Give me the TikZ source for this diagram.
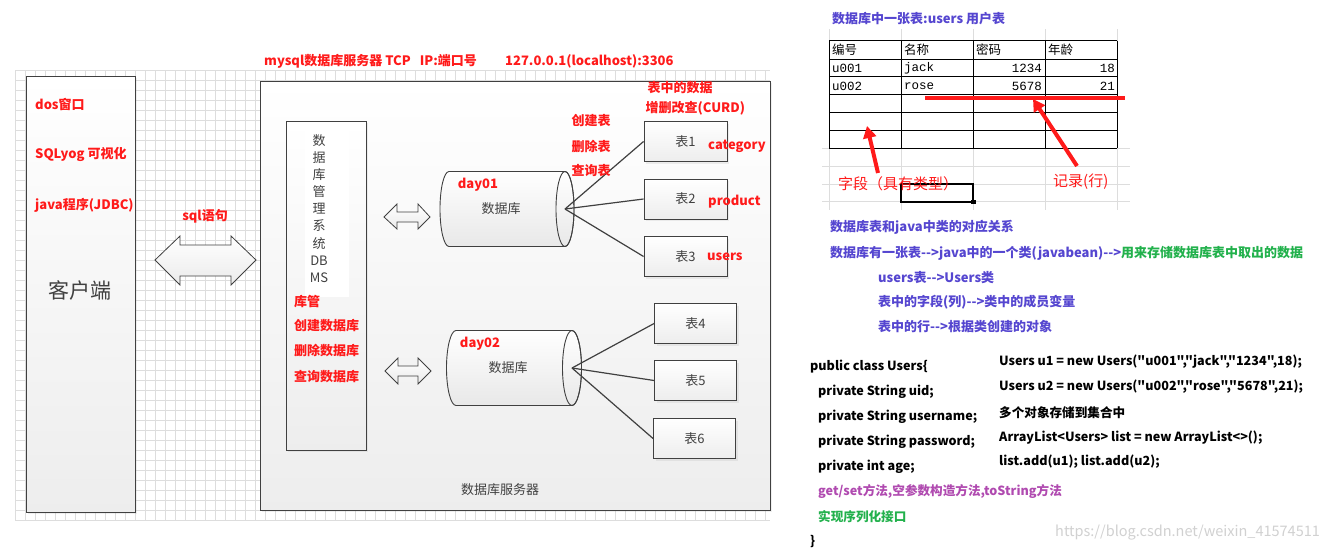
\documentclass[tikz,border=0pt]{standalone}
\usepackage{fontspec}
\setmainfont{Noto Sans CJK SC}
\newfontfamily\codefont{Noto Sans CJK SC}
\newfontfamily\tabmono{Liberation Mono}
\usetikzlibrary{arrows.meta,shadows}
\definecolor{hired}{HTML}{FF1A1A}
\definecolor{noteblue}{HTML}{5546D0}
\definecolor{notegreen}{HTML}{22B14C}
\definecolor{notepurple}{HTML}{B04AB0}
\definecolor{gridgray}{HTML}{DDDDDD}
\definecolor{edgegray}{HTML}{404040}
\tikzset{
  box/.style={draw=edgegray, line width=0.9pt, top color=white, bottom color=black!7,
    drop shadow={opacity=0.12, shadow xshift=2pt, shadow yshift=-2pt}},
  link/.style={edgegray, line width=1.2pt},
}
\begin{document}
\begin{tikzpicture}[x=1pt,y=-1pt,
    redlbl/.style={text=hired, font=\bfseries\fontsize{13}{15}\selectfont, anchor=west, inner sep=0pt},
    graylbl/.style={text=black!75, font=\fontsize{13}{15}\selectfont, inner sep=0pt},
    tabbox/.style={box, minimum width=82pt, minimum height=40pt, graylbl},
    note/.style={text=noteblue, font=\codefont\bfseries\fontsize{13}{15}\selectfont, anchor=west, inner sep=0pt},
    code/.style={text=black, font=\codefont\bfseries\fontsize{12.6}{14}\selectfont, anchor=west, inner sep=0pt},
    cell/.style={font=\fontsize{12.5}{14}\selectfont, anchor=west, inner sep=0pt}]
    \useasboundingbox[fill=white] (0,0) rectangle (1342,552);
    % Grille
    \foreach \gx in {15,25,...,765}{
        \draw[gridgray, line width=0.5pt] (\gx,70) -- (\gx,520);
    }
    \foreach \gy in {70,80,...,520}{
        \draw[gridgray, line width=0.5pt] (15,\gy) -- (770,\gy);
    }
    % Client
    \node[box, minimum width=109pt, minimum height=436pt] (client) at (80.5,294) {};
    \node[redlbl] (dos) at (35,104) {dos窗口};
    \node[redlbl] (sqlyog) at (35,154) {SQLyog 可视化};
    \node[redlbl] (jdbc) at (35,205) {java程序(JDBC)};
    \node[graylbl, font=\fontsize{21}{24}\selectfont] (clientlbl) at (80,290) {客户端};
    % Serveur
    \node[redlbl] (srvtitle) at (264,61.5) {mysql数据库服务器 TCP\hspace{9pt}IP:端口号};
    \node[redlbl] (srvport) at (505,61.5) {127.0.0.1(localhost):3306};
    \node[box, minimum width=510pt, minimum height=429pt] (server) at (515,295.5) {};
    \node[graylbl] (serverlbl) at (500,490) {数据库服务器};
    % Fleche client <-> serveur
    \shadedraw[edgegray, line width=0.8pt, top color=white, bottom color=black!8]
        (155,260) -- (180,236) -- (180,245) -- (231,245) -- (231,236) -- (256,260)
        -- (231,285) -- (231,276) -- (180,276) -- (180,285) -- cycle;
    \node[redlbl, anchor=center] (sql) at (205,216) {sql语句};
    % SGBD
    \node[box, minimum width=80pt, minimum height=329pt] (dbms) at (326,285.5) {};
    \fill[white] (305,124) rectangle (349,297);
    \node[graylbl, align=center, font=\fontsize{13}{17.1}\selectfont] (dbmslbl) at (319,208.5)
        {数\\据\\库\\管\\理\\系\\统\\DB\\MS};
    \node[redlbl] (kuguan) at (294,301.5) {库管};
    \node[redlbl] (mkdb) at (294,326) {创建数据库};
    \node[redlbl] (rmdb) at (294,351) {删除数据库};
    \node[redlbl] (lsdb) at (294,376.5) {查询数据库};
    % Petites fleches
    \shadedraw[edgegray, line width=0.8pt, top color=white, bottom color=black!8]
        (384,217) -- (397,204) -- (397,212) -- (418,212) -- (418,204) -- (430,217)
        -- (418,229) -- (418,222) -- (397,222) -- (397,229) -- cycle;
    \shadedraw[edgegray, line width=0.8pt, top color=white, bottom color=black!8]
        (385,371) -- (398,358) -- (398,366) -- (418,366) -- (418,358) -- (431,371)
        -- (418,384) -- (418,376) -- (398,376) -- (398,384) -- cycle;
    % Base day01
    \shadedraw[edgegray, line width=0.9pt, top color=white, bottom color=black!9]
        (449,171.5) -- (565,171.5) arc[start angle=-90, end angle=90, x radius=9, y radius=37.5]
        -- (449,246.5) arc[start angle=90, end angle=270, x radius=9, y radius=37.5] -- cycle;
    \draw[edgegray, line width=0.9pt] (565,209) ellipse[x radius=9, y radius=37.5];
    \coordinate (db1) at (565,209);
    \node[redlbl, anchor=center] (day01) at (478,185) {day01};
    \node[graylbl] (db1lbl) at (501,209) {数据库};
    % Base day02
    \shadedraw[edgegray, line width=0.9pt, top color=white, bottom color=black!9]
        (456,330.5) -- (572,330.5) arc[start angle=-90, end angle=90, x radius=9.5, y radius=37.5]
        -- (456,405.5) arc[start angle=90, end angle=270, x radius=9.5, y radius=37.5] -- cycle;
    \draw[edgegray, line width=0.9pt] (572,368) ellipse[x radius=9.5, y radius=37.5];
    \coordinate (db2) at (572,368);
    \node[redlbl, anchor=center] (day02) at (480,344) {day02};
    \node[graylbl] (db2lbl) at (508,368) {数据库};
    % Tables
    \node[tabbox, minimum width=83pt] (t1) at (685.5,141.5) {表1};
    \node[tabbox, minimum width=83pt] (t2) at (685.5,199) {表2};
    \node[tabbox, minimum width=83pt] (t3) at (685.5,256.5) {表3};
    \node[tabbox] (t4) at (695.5,323.5) {表4};
    \node[tabbox] (t5) at (695.5,380.5) {表5};
    \node[tabbox] (t6) at (694.5,438.5) {表6};
    \foreach \t in {t1,t2,t3}{
        \draw[link] (db1) -- (\t.west);
    }
    \foreach \t in {t4,t5,t6}{
        \draw[link] (db2) -- (\t.west);
    }
    \node[redlbl] (crud1) at (647.5,88) {表中的数据};
    \node[redlbl] (crud2) at (645.5,108) {增删改查(CURD)};
    \node[redlbl] (mktb) at (571.5,121) {创建表};
    \node[redlbl] (rmtb) at (571.5,146.5) {删除表};
    \node[redlbl] (lstb) at (571.5,171) {查询表};
    \node[redlbl] (category) at (708,146) {category};
    \node[redlbl] (product) at (708,202) {product};
    \node[redlbl] (users) at (707,257) {users};
    % Tableau users
    \node[note] (tbltitle) at (832,19) {数据库中一张表:users 用户表};
    \foreach \cx in {829.3,901,973.3,1045.3,1117.3}{
        \draw[gridgray, line width=0.6pt] (\cx,29) -- (\cx,210);
    }
    \foreach \cy in {148.3,166.7,184.3,201.7}{
        \draw[gridgray, line width=0.6pt] (822,\cy) -- (1130,\cy);
    }
    \foreach \cy in {40.7,59,76.7,94.3,112.3,130.7,148.3}{
        \draw[black, line width=0.9pt] (829.3,\cy) -- (1117.3,\cy);
    }
    \foreach \cx in {829.3,901,973.3,1045.3,1117.3}{
        \draw[black, line width=0.9pt] (\cx,40.7) -- (\cx,148.3);
    }
    \node[cell] (h1) at (832,50) {编号};
    \node[cell] (h2) at (904,50) {名称};
    \node[cell] (h3) at (976,50) {密码};
    \node[cell] (h4) at (1048,50) {年龄};
    \node[cell, font=\tabmono\fontsize{12.5}{14}\selectfont] (u1) at (832,68) {u001};
    \node[cell, font=\tabmono\fontsize{12.5}{14}\selectfont] (n1) at (904,68) {jack};
    \node[cell, font=\tabmono\fontsize{12.5}{14}\selectfont, anchor=east] (p1) at (1042,68) {1234};
    \node[cell, font=\tabmono\fontsize{12.5}{14}\selectfont, anchor=east] (a1) at (1115,68) {18};
    \node[cell, font=\tabmono\fontsize{12.5}{14}\selectfont] (u2) at (832,86) {u002};
    \node[cell, font=\tabmono\fontsize{12.5}{14}\selectfont] (n2) at (904,86) {rose};
    \node[cell, font=\tabmono\fontsize{12.5}{14}\selectfont, anchor=east] (p2) at (1042,86) {5678};
    \node[cell, font=\tabmono\fontsize{12.5}{14}\selectfont, anchor=east] (a2) at (1115,86) {21};
    \draw[black, line width=2pt] (901,184.3) rectangle (973,201.7);
    \fill[black] (971,199.7) rectangle (975.5,204);
    % Annotations rouges
    \coordinate (rowl) at (925,97.7);
    \coordinate (rowr) at (1125,97.7);
    \draw[hired, line width=4pt] (rowl) -- (rowr);
    \node[text=hired, font=\fontsize{15}{17}\selectfont, anchor=west, inner sep=0pt] (fieldlbl) at (838,183.5) {字段（具有类型）};
    \node[text=hired, font=\fontsize{15}{17}\selectfont, anchor=west, inner sep=0pt] (recordlbl) at (1053,181.5) {记录(行)};
    \coordinate (fieldtip) at (867,126);
    \coordinate (recordtip) at (1033,99);
    \draw[hired, line width=4pt, -{Triangle[length=12pt,width=13pt]}] (878,173) -- (fieldtip);
    \draw[hired, line width=4pt, -{Triangle[length=12pt,width=13pt]}] (1077,166) -- (recordtip);
    % Correspondance table / classe
    \node[note] (map0) at (830,227) {数据库表和java中类的对应关系};
    \node[note] (map1) at (830,253) {数据库有一张表-->java中的一个类(javabean)-->\textcolor{notegreen}{用来存储数据库表中取出的数据}};
    \node[note] (map2) at (878,278) {users表-->Users类};
    \node[note] (map3) at (878,302.5) {表中的字段(列)-->类中的成员变量};
    \node[note] (map4) at (878,326.5) {表中的行-->根据类创建的对象};
    % Code java
    \node[code] (cls) at (810,366.5) {public class Users\{};
    \node[code] (f1) at (818,391.5) {private String uid;};
    \node[code] (f2) at (818,416.5) {private String username;};
    \node[code] (f3) at (818,441.5) {private String password;};
    \node[code] (f4) at (818,466.5) {private int age;};
    \node[code, text=notepurple] (meth) at (818,491.5) {get/set方法,空参数构造方法,toString方法};
    \node[code, text=notegreen] (ser) at (818,516.5) {实现序列化接口};
    \node[code] (clsend) at (810,541.5) {\}};
    \node[code] (obj1) at (999,361.5) {Users u1 = new Users("u001","jack","1234",18);};
    \node[code] (obj2) at (999,386.5) {Users u2 = new Users("u002","rose","5678",21);};
    \node[code] (obj3) at (999,412.5) {多个对象存储到集合中};
    \node[code] (obj4) at (999,437.5) {ArrayList<Users> list = new ArrayList<>();};
    \node[code] (obj5) at (999,462) {list.add(u1); list.add(u2);};
    \node[text=black!18, font=\fontsize{14.5}{16}\selectfont, anchor=west, inner sep=0pt] (wm) at (1055,533) {https://blog.csdn.net/weixin\_41574511};
\end{tikzpicture}
\end{document}
